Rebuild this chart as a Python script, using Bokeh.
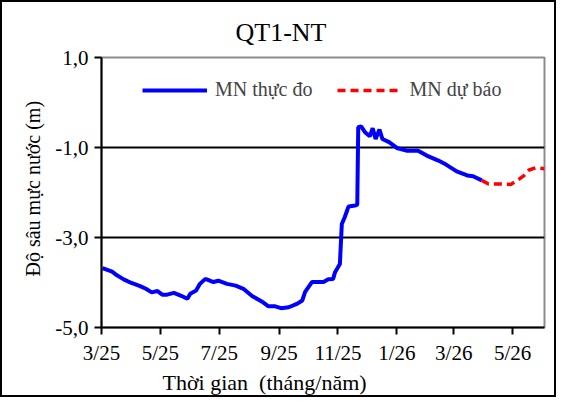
from datetime import datetime
import pandas as pd
from bokeh.plotting import figure
from bokeh.models import (Range1d, FixedTicker, DatetimeTickFormatter, Legend,
                          LegendItem, Title, ColumnDataSource)
from bokeh.embed import file_html
from bokeh.resources import INLINE

# ---- data ----
obs_dates = ["2025-03-02", "2025-03-12", "2025-03-17", "2025-03-24", "2025-04-01",
             "2025-04-10", "2025-04-16", "2025-04-22", "2025-04-28", "2025-05-03",
             "2025-05-08", "2025-05-15", "2025-05-22", "2025-05-29", "2025-06-01",
             "2025-06-07", "2025-06-11", "2025-06-16", "2025-06-18", "2025-06-25",
             "2025-06-30", "2025-07-09", "2025-07-18", "2025-07-26", "2025-08-04",
             "2025-08-14", "2025-08-21", "2025-08-28", "2025-09-03", "2025-09-11",
             "2025-09-20", "2025-09-25", "2025-09-28", "2025-10-05", "2025-10-17",
             "2025-10-22", "2025-10-27", "2025-10-29", "2025-11-03", "2025-11-05",
             "2025-11-08", "2025-11-12", "2025-11-19", "2025-11-21", "2025-11-22",
             "2025-11-25", "2025-11-29", "2025-12-04", "2025-12-07", "2025-12-10",
             "2025-12-14", "2025-12-17", "2025-12-24", "2026-01-01", "2026-01-11",
             "2026-01-23", "2026-02-01", "2026-02-13", "2026-02-21", "2026-03-04",
             "2026-03-15", "2026-03-21", "2026-03-30"]
obs_values = [-3.68, -3.76, -3.84, -3.93, -4.01,
              -4.08, -4.14, -4.22, -4.19, -4.27,
              -4.27, -4.23, -4.29, -4.36, -4.25,
              -4.18, -4.03, -3.93, -3.93, -3.99,
              -3.96, -4.03, -4.07, -4.14, -4.30,
              -4.42, -4.53, -4.53, -4.57, -4.55,
              -4.47, -4.40, -4.21, -3.99, -3.99,
              -3.93, -3.92, -3.77, -3.59, -2.70,
              -2.55, -2.31, -2.29, -2.27, -0.55,
              -0.53, -0.66, -0.75, -0.57, -0.81,
              -0.60, -0.81, -0.88, -1.01, -1.07,
              -1.07, -1.18, -1.29, -1.38, -1.53,
              -1.62, -1.64, -1.73]

fc_dates = ["2026-03-30", "2026-04-06", "2026-04-15", "2026-04-29", "2026-05-06",
            "2026-05-13", "2026-05-18", "2026-05-25", "2026-06-03"]
fc_values = [-1.73, -1.81, -1.81, -1.82, -1.73, -1.62, -1.50, -1.45, -1.47]

tick_dates = ["2025-03-01", "2025-05-01", "2025-07-01", "2025-09-01",
              "2025-11-01", "2026-01-01", "2026-03-01", "2026-05-01"]
y_ticks = [1.0, -1.0, -3.0, -5.0]
y_tick_labels = ["1,0", "-1,0", "-3,0", "-5,0"]

title_text = "QT1-NT"
x_label = "Thời gian\u00a0\u00a0(tháng/năm)"
y_label = "Độ sâu mực nước (m)"
obs_name = "MN thực đo"
fc_name = "MN dự báo"

FONT = "Liberation Serif"

p = figure(frame_width=443, frame_height=270, x_axis_type="datetime",
           x_range=Range1d(datetime(2025, 3, 1), datetime(2026, 6, 3)),
           y_range=Range1d(-5.0, 1.0),
           output_backend="svg", toolbar_location=None,
           min_border_left=99, min_border_right=10, min_border_top=55,
           min_border_bottom=68)
p.styles = {"border": "2px solid black"}
p.background_fill_color = "white"
p.border_fill_color = "white"
p.outline_line_color = "#8c8c8c"
p.outline_line_width = 2

obs_src = ColumnDataSource(dict(x=pd.to_datetime(obs_dates), y=obs_values))
fc_src = ColumnDataSource(dict(x=pd.to_datetime(fc_dates), y=fc_values))

r_obs = p.line("x", "y", source=obs_src, line_color="#0000ff", line_width=4)
r_fc = p.line("x", "y", source=fc_src, line_color="#ff0000", line_width=3.5,
              line_dash="8 5")

# axes
tick_ms = [pd.Timestamp(d).value // 10**6 for d in tick_dates]
p.xaxis.ticker = FixedTicker(ticks=tick_ms)
fmt = "%-m/%y"
p.xaxis.formatter = DatetimeTickFormatter(
    milliseconds=fmt, seconds=fmt, minsec=fmt, minutes=fmt, hourmin=fmt,
    hours=fmt, days=fmt, months=fmt, years=fmt)
p.yaxis.ticker = FixedTicker(ticks=y_ticks)
p.yaxis.major_label_overrides = {v: l for v, l in zip(y_ticks, y_tick_labels)}

for ax in (p.xaxis[0], p.yaxis[0]):
    ax.axis_line_color = "black"
    ax.axis_line_width = 2
    ax.major_tick_line_color = "black"
    ax.major_tick_line_width = 2
    ax.major_tick_in = 0
    ax.major_tick_out = 7
    ax.minor_tick_line_color = None
    ax.major_label_text_font = FONT
    ax.major_label_text_font_size = "21px"
    ax.major_label_text_color = "black"
    ax.major_label_standoff = 6

p.xgrid.visible = False
p.ygrid.ticker = FixedTicker(ticks=[-1.0, -3.0])
p.ygrid.grid_line_color = "black"
p.ygrid.grid_line_width = 2

# titles / labels
t = Title(text=title_text, align="left", offset=134, text_font=FONT,
          text_font_size="26px", text_font_style="normal", text_color="black",
          standoff=21)
p.add_layout(t, "above")
xl = Title(text=x_label, align="left", offset=61, text_font=FONT,
           text_font_size="22px", text_font_style="normal", text_color="black",
           standoff=0)
p.add_layout(xl, "below")
yl = Title(text=y_label, align="left", offset=51, text_font=FONT,
           text_font_size="20px", text_font_style="normal", text_color="black",
           standoff=18)
p.add_layout(yl, "left")

legend = Legend(items=[LegendItem(label=obs_name, renderers=[r_obs]),
                       LegendItem(label=fc_name, renderers=[r_fc])],
                orientation="horizontal", location=(41, 226),
                glyph_width=65, label_standoff=8, spacing=24, padding=5,
                label_text_font=FONT, label_text_font_size="20px",
                border_line_color=None, background_fill_alpha=0)
p.add_layout(legend)

open("out.html", "w").write(file_html(p, INLINE))
